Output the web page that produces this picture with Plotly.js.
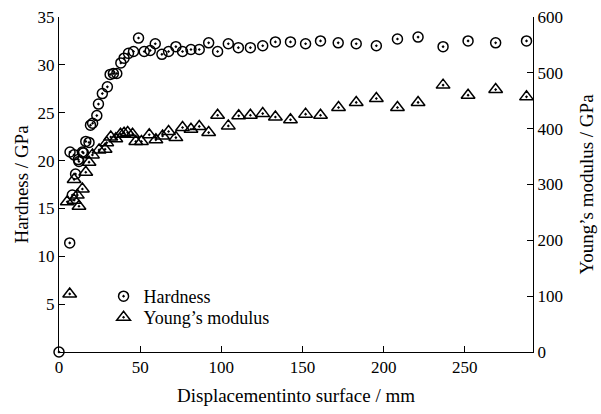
<!DOCTYPE html>
<html>
<head>
<meta charset="utf-8">
<script src="https://cdn.plot.ly/plotly-3.0.1.min.js"></script>
<style>html,body{margin:0;padding:0;background:#fff;}#chart{width:601px;height:414px;}</style>
</head>
<body>
<div id="chart"></div>
<script>
// Hardness (GPa) vs displacement into surface (mm)
var hardnessX = [0, 6.6, 8.2, 10.2, 6.8, 9.3, 11.9, 12.3, 14.4, 15, 16.5, 18.5, 19.4, 20.7, 23.3, 24.3, 26.7, 29.8, 31.5, 33.5, 35.6, 38.1, 40.1, 42.8, 45.9, 49, 52.5, 56.2, 59.3, 63.4, 67.5, 72, 76.1, 81.3, 86.4, 92.2, 97.7, 104.3, 110.5, 117.9, 125.5, 133.3, 142.6, 151.9, 161.1, 172, 183.1, 195.5, 208.5, 221.2, 236.6, 252, 269, 288];
var hardnessY = [0, 11.4, 16.4, 18.6, 20.9, 20.6, 20.1, 19.9, 20.9, 20.8, 22.0, 21.9, 23.7, 23.9, 24.7, 25.9, 27.0, 27.7, 29.0, 29.1, 29.1, 30.2, 30.7, 31.2, 31.4, 32.8, 31.4, 31.5, 32.2, 31.1, 31.4, 31.9, 31.4, 31.6, 31.6, 32.3, 31.4, 32.2, 31.8, 31.8, 32.0, 32.4, 32.4, 32.2, 32.5, 32.3, 32.2, 32.0, 32.7, 32.9, 31.9, 32.5, 32.3, 32.5];

// Young's modulus (GPa) vs displacement into surface (mm)
var modulusX = [6.6, 5.1, 9.3, 12.3, 11.3, 14.4, 9.3, 16.5, 18.5, 20.6, 24.7, 28.4, 29.4, 31.9, 35, 37.9, 40.1, 42.3, 45.3, 47.3, 50.8, 55.6, 59.7, 63.8, 67.5, 72, 76.1, 81.3, 86.4, 92.2, 97.7, 104.3, 110.7, 117.9, 125.5, 133.3, 142.6, 151.9, 161.1, 172.2, 183.1, 195.5, 208.5, 221.2, 236.6, 252, 269, 288];
var modulusY = [104, 269, 272, 261, 281, 292, 309, 322, 340, 353, 362, 363, 375, 385, 382, 390, 392, 393, 390, 377, 377, 389, 380, 387, 395, 384, 402, 399, 404, 393, 424, 405, 423, 424, 427, 421, 416, 426, 424, 438, 447, 454, 438, 447, 478, 460, 470, 457];

var xTicks = [0, 50, 100, 150, 200, 250];
var leftTicks = [5, 10, 15, 20, 25, 30, 35];
var rightTicks = [0, 100, 200, 300, 400, 500, 600];

var serif = 'Liberation Serif, Times New Roman, serif';

var traces = [
  {
    x: hardnessX, y: hardnessY, name: 'Hardness', type: 'scatter', mode: 'markers',
    cliponaxis: false, legend: 'legend',
    marker: {symbol: 'circle-open-dot', size: 10, color: '#000', line: {width: 1.5, color: '#000'}}
  },
  {
    x: modulusX, y: modulusY, name: 'Young\u2019s modulus', type: 'scatter', mode: 'markers',
    yaxis: 'y2', cliponaxis: false, legend: 'legend2',
    marker: {symbol: 'triangle-up-open-dot', size: 12, color: '#000', line: {width: 1.5, color: '#000'}}
  }
];

var legendFont = {family: serif, size: 18, color: '#000'};

var layout = {
  width: 601, height: 414,
  margin: {l: 59, r: 68, t: 17, b: 62},
  paper_bgcolor: '#fff', plot_bgcolor: '#fff',
  font: {family: serif, size: 17, color: '#000'},
  showlegend: true,
  legend: {x: 0.094, y: 0.221, xanchor: 'left', yanchor: 'top', bgcolor: 'rgba(0,0,0,0)', font: legendFont},
  legend2: {x: 0.094, y: 0.158, xanchor: 'left', yanchor: 'top', bgcolor: 'rgba(0,0,0,0)', font: legendFont},
  xaxis: {
    range: [0, 292], tickvals: xTicks, ticktext: xTicks.map(String),
    ticks: 'inside', ticklen: 6, tickcolor: '#000', showline: true, linecolor: '#000', linewidth: 1,
    showgrid: false, zeroline: false, tickfont: {family: serif, size: 17},
    title: {text: 'Displacementinto surface / mm', font: {family: serif, size: 19}, standoff: 12}
  },
  yaxis: {
    range: [0, 35], tickvals: leftTicks, ticktext: leftTicks.map(String),
    ticks: 'inside', ticklen: 6, tickcolor: '#000', showline: true, linecolor: '#000', linewidth: 1,
    showgrid: false, zeroline: false, tickfont: {family: serif, size: 17},
    title: {text: 'Hardness / GPa', font: {family: serif, size: 19}, standoff: 3}
  },
  yaxis2: {
    range: [0, 600], tickvals: rightTicks, ticktext: rightTicks.map(String),
    overlaying: 'y', side: 'right',
    ticks: 'inside', ticklen: 6, tickcolor: '#000', showline: true, linecolor: '#000', linewidth: 1,
    showgrid: false, zeroline: false, tickfont: {family: serif, size: 17},
    title: {text: 'Young\u2019s modulus / GPa', font: {family: serif, size: 19}, standoff: 17}
  }
};

Plotly.newPlot('chart', traces, layout, {displayModeBar: false, staticPlot: true});
</script>
</body>
</html>
